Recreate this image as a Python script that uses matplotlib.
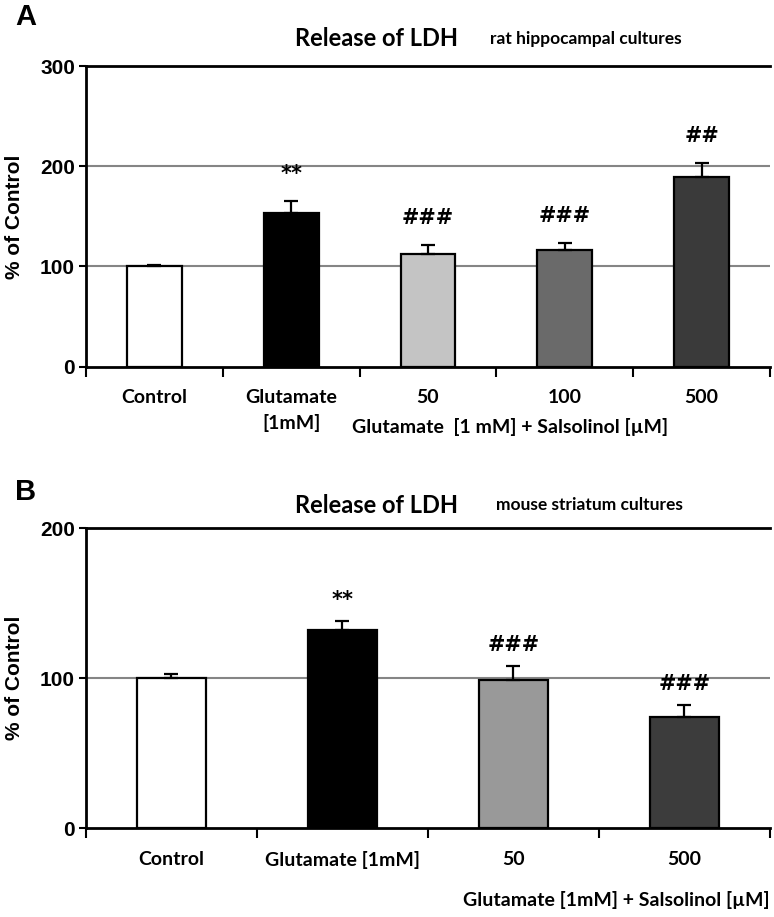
import matplotlib
matplotlib.use('Agg')
import matplotlib.pyplot as plt
import numpy as np

# ==================== DATA ====================
a_labels = ['Control', 'Glutamate\n[1mM]', '50', '100', '500']
a_values = [100, 153, 112, 116, 189]
a_errors = [1.5, 12, 9, 7, 14]
a_marks = ['', '**', '###', '###', '##']
a_colors = ['#ffffff', '#000000', '#c4c4c4', '#6a6a6a', '#3a3a3a']

b_labels = ['Control', 'Glutamate [1mM]', '50', '500']
b_values = [100, 132, 99, 74]
b_errors = [2.5, 6, 9, 8]
b_marks = ['', '**', '###', '###']
b_colors = ['#ffffff', '#000000', '#999999', '#3c3c3c']

FONT = 'Lato'
ARIAL = 'Liberation Sans'

fig = plt.figure(figsize=(7.74, 9.17), dpi=100)
fig.patch.set_facecolor('white')


def draw_panel(ax, labels, values, errors, marks, colors, ymax, mark_off):
    x = np.arange(len(values))
    ax.set_xlim(-0.5, len(values) - 0.5)
    ax.set_ylim(0, ymax)

    # gray gridlines (top one is the black frame line)
    for g in range(100, ymax, 100):
        ax.axhline(g, color='#858585', lw=1.5, zorder=1)

    ax.bar(x, values, width=0.4, color=colors, edgecolor='black',
           linewidth=1.6, zorder=2)
    ax.errorbar(x, values, yerr=[np.zeros(len(errors)), errors], fmt='none',
                ecolor='black', elinewidth=1.6, capsize=5, capthick=1.6,
                zorder=3)

    for xi, v, e, m in zip(x, values, errors, marks):
        if m:
            ax.annotate(m, xy=(xi, v + e), xytext=(0, mark_off),
                        textcoords='offset pixels', ha='center', va='center',
                        fontsize=15, fontweight='bold', family='DejaVu Sans')

    for s in ['left', 'bottom', 'top']:
        ax.spines[s].set_linewidth(2)
        ax.spines[s].set_color('black')
    ax.spines['right'].set_visible(False)

    ax.set_yticks(range(0, ymax + 1, 100))
    ax.tick_params(axis='y', length=5, width=1.5, labelsize=15, pad=3)
    for t in ax.get_yticklabels():
        t.set_fontweight('bold')
        t.set_family(ARIAL)

    ax.set_xticks(np.arange(len(values) + 1) - 0.5)
    ax.set_xticklabels([])
    ax.tick_params(axis='x', length=7, width=1.5)

    ax.set_ylabel('% of Control', fontsize=15, fontweight='bold',
                  family=ARIAL)


# ===== PANEL A =====
ax1 = fig.add_axes([0.1111, 0.6001, 0.8837, 0.3279])
draw_panel(ax1, a_labels, a_values, a_errors, a_marks, a_colors, 300, 27)
for i, lab in enumerate(a_labels):
    ax1.text(i, -22, lab, ha='center', va='top', fontsize=14,
             fontweight='bold', family=FONT, linespacing=1.55)
ax1.text(2.6, -51, 'Glutamate  [1 mM] + Salsolinol [µM]', ha='center',
         va='top', fontsize=14, fontweight='bold', family=FONT)
ax1.yaxis.set_label_coords(-0.09, 0.5)

fig.text(0.02, 0.981, 'A', fontsize=21, fontweight='bold',
         family=ARIAL, va='center', ha='left')
fig.text(0.486, 0.958, 'Release of LDH', fontsize=17, fontweight='bold',
         family=FONT, ha='center', va='center')
fig.text(0.757, 0.958, 'rat hippocampal cultures', fontsize=12.5,
         fontweight='bold', family=FONT, ha='center', va='center')

# ===== PANEL B =====
ax2 = fig.add_axes([0.1111, 0.0967, 0.8837, 0.3275])
draw_panel(ax2, b_labels, b_values, b_errors, b_marks, b_colors, 200, 21)
for i, lab in enumerate(b_labels):
    ax2.text(i, -15, lab, ha='center', va='top', fontsize=14,
             fontweight='bold', family=FONT)
ax2.text(3.5, -42, 'Glutamate [1mM] + Salsolinol [µM]', ha='right',
         va='top', fontsize=14, fontweight='bold', family=FONT)
ax2.yaxis.set_label_coords(-0.09, 0.5)

fig.text(0.02, 0.463, 'B', fontsize=21, fontweight='bold',
         family=ARIAL, va='center', ha='left')
fig.text(0.486, 0.449, 'Release of LDH', fontsize=17, fontweight='bold',
         family=FONT, ha='center', va='center')
fig.text(0.762, 0.449, 'mouse striatum cultures', fontsize=12.5,
         fontweight='bold', family=FONT, ha='center', va='center')

plt.savefig('out.png', dpi=100, facecolor='white')
plt.close()
